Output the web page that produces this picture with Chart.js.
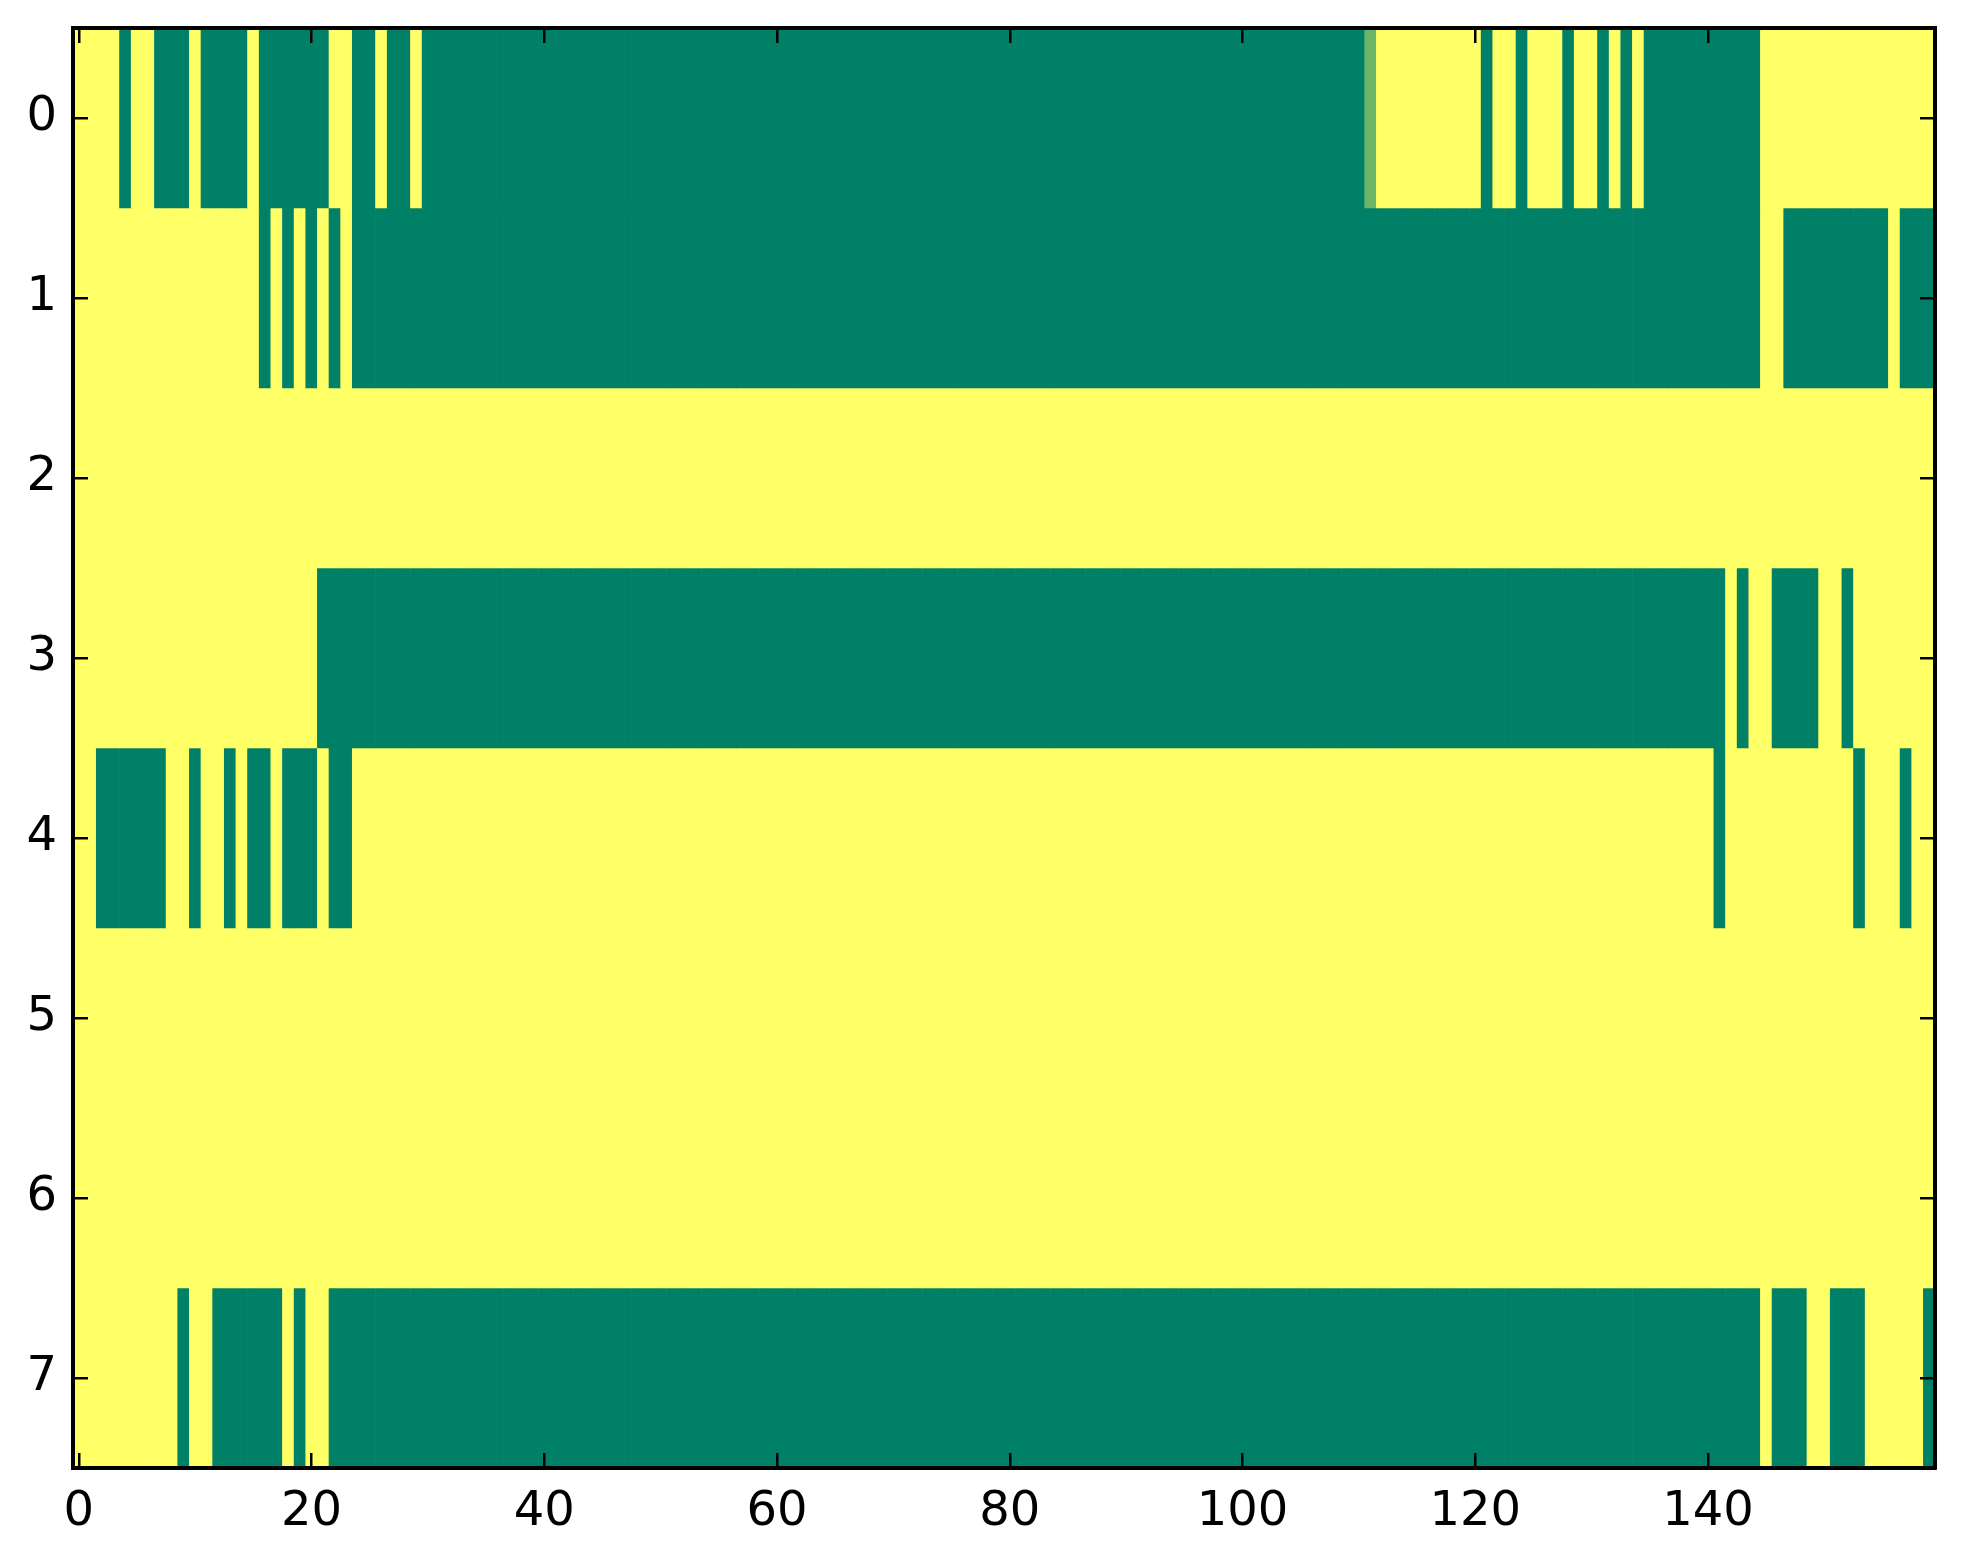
<!DOCTYPE html>
<html>
<head>
<meta charset="utf-8">
<script src="https://cdn.jsdelivr.net/npm/chart.js@4.4.1/dist/chart.umd.min.js"></script>
<style>
  html, body { margin: 0; padding: 0; background: #ffffff; }
  #wrap { width: 1963px; height: 1564px; }
</style>
</head>
<body>
<div id="wrap"><canvas id="heat" width="1963" height="1564"></canvas></div>
<script>
// cell values, one array per image row (1 = yellow, 0 = green)
const row0 = [
  1,1,1,1,0,1,1,0,0,0,1,0,0,0,0,1,0,0,0,0,
  0,0,1,1,0,0,1,0,0,1,0,0,0,0,0,0,0,0,0,0,
  0,0,0,0,0,0,0,0,0,0,0,0,0,0,0,0,0,0,0,0,
  0,0,0,0,0,0,0,0,0,0,0,0,0,0,0,0,0,0,0,0,
  0,0,0,0,0,0,0,0,0,0,0,0,0,0,0,0,0,0,0,0,
  0,0,0,0,0,0,0,0,0,0,0,0.42,1,1,1,1,1,1,1,1,
  1,0,1,1,0,1,1,1,0,1,1,0,1,0,1,0,0,0,0,0,
  0,0,0,0,0,1,1,1,1,1,1,1,1,1,1,1,1,1,1,1
];
const row1 = [
  1,1,1,1,1,1,1,1,1,1,1,1,1,1,1,1,0,1,0,1,
  0,1,0,1,0,0,0,0,0,0,0,0,0,0,0,0,0,0,0,0,
  0,0,0,0,0,0,0,0,0,0,0,0,0,0,0,0,0,0,0,0,
  0,0,0,0,0,0,0,0,0,0,0,0,0,0,0,0,0,0,0,0,
  0,0,0,0,0,0,0,0,0,0,0,0,0,0,0,0,0,0,0,0,
  0,0,0,0,0,0,0,0,0,0,0,0,0,0,0,0,0,0,0,0,
  0,0,0,0,0,0,0,0,0,0,0,0,0,0,0,0,0,0,0,0,
  0,0,0,0,0,1,1,0,0,0,0,0,0,0,0,0,1,0,0,0
];
const row2 = [
  1,1,1,1,1,1,1,1,1,1,1,1,1,1,1,1,1,1,1,1,
  1,1,1,1,1,1,1,1,1,1,1,1,1,1,1,1,1,1,1,1,
  1,1,1,1,1,1,1,1,1,1,1,1,1,1,1,1,1,1,1,1,
  1,1,1,1,1,1,1,1,1,1,1,1,1,1,1,1,1,1,1,1,
  1,1,1,1,1,1,1,1,1,1,1,1,1,1,1,1,1,1,1,1,
  1,1,1,1,1,1,1,1,1,1,1,1,1,1,1,1,1,1,1,1,
  1,1,1,1,1,1,1,1,1,1,1,1,1,1,1,1,1,1,1,1,
  1,1,1,1,1,1,1,1,1,1,1,1,1,1,1,1,1,1,1,1
];
const row3 = [
  1,1,1,1,1,1,1,1,1,1,1,1,1,1,1,1,1,1,1,1,
  1,0,0,0,0,0,0,0,0,0,0,0,0,0,0,0,0,0,0,0,
  0,0,0,0,0,0,0,0,0,0,0,0,0,0,0,0,0,0,0,0,
  0,0,0,0,0,0,0,0,0,0,0,0,0,0,0,0,0,0,0,0,
  0,0,0,0,0,0,0,0,0,0,0,0,0,0,0,0,0,0,0,0,
  0,0,0,0,0,0,0,0,0,0,0,0,0,0,0,0,0,0,0,0,
  0,0,0,0,0,0,0,0,0,0,0,0,0,0,0,0,0,0,0,0,
  0,0,1,0,1,1,0,0,0,0,1,1,0,1,1,1,1,1,1,1
];
const row4 = [
  1,1,0,0,0,0,0,0,1,1,0,1,1,0,1,0,0,1,0,0,
  0,1,0,0,1,1,1,1,1,1,1,1,1,1,1,1,1,1,1,1,
  1,1,1,1,1,1,1,1,1,1,1,1,1,1,1,1,1,1,1,1,
  1,1,1,1,1,1,1,1,1,1,1,1,1,1,1,1,1,1,1,1,
  1,1,1,1,1,1,1,1,1,1,1,1,1,1,1,1,1,1,1,1,
  1,1,1,1,1,1,1,1,1,1,1,1,1,1,1,1,1,1,1,1,
  1,1,1,1,1,1,1,1,1,1,1,1,1,1,1,1,1,1,1,1,
  1,0,1,1,1,1,1,1,1,1,1,1,1,0,1,1,1,0,1,1
];
const row5 = [
  1,1,1,1,1,1,1,1,1,1,1,1,1,1,1,1,1,1,1,1,
  1,1,1,1,1,1,1,1,1,1,1,1,1,1,1,1,1,1,1,1,
  1,1,1,1,1,1,1,1,1,1,1,1,1,1,1,1,1,1,1,1,
  1,1,1,1,1,1,1,1,1,1,1,1,1,1,1,1,1,1,1,1,
  1,1,1,1,1,1,1,1,1,1,1,1,1,1,1,1,1,1,1,1,
  1,1,1,1,1,1,1,1,1,1,1,1,1,1,1,1,1,1,1,1,
  1,1,1,1,1,1,1,1,1,1,1,1,1,1,1,1,1,1,1,1,
  1,1,1,1,1,1,1,1,1,1,1,1,1,1,1,1,1,1,1,1
];
const row6 = [
  1,1,1,1,1,1,1,1,1,1,1,1,1,1,1,1,1,1,1,1,
  1,1,1,1,1,1,1,1,1,1,1,1,1,1,1,1,1,1,1,1,
  1,1,1,1,1,1,1,1,1,1,1,1,1,1,1,1,1,1,1,1,
  1,1,1,1,1,1,1,1,1,1,1,1,1,1,1,1,1,1,1,1,
  1,1,1,1,1,1,1,1,1,1,1,1,1,1,1,1,1,1,1,1,
  1,1,1,1,1,1,1,1,1,1,1,1,1,1,1,1,1,1,1,1,
  1,1,1,1,1,1,1,1,1,1,1,1,1,1,1,1,1,1,1,1,
  1,1,1,1,1,1,1,1,1,1,1,1,1,1,1,1,1,1,1,1
];
const row7 = [
  1,1,1,1,1,1,1,1,1,0,1,1,0,0,0,0,0,0,1,0,
  1,1,0,0,0,0,0,0,0,0,0,0,0,0,0,0,0,0,0,0,
  0,0,0,0,0,0,0,0,0,0,0,0,0,0,0,0,0,0,0,0,
  0,0,0,0,0,0,0,0,0,0,0,0,0,0,0,0,0,0,0,0,
  0,0,0,0,0,0,0,0,0,0,0,0,0,0,0,0,0,0,0,0,
  0,0,0,0,0,0,0,0,0,0,0,0,0,0,0,0,0,0,0,0,
  0,0,0,0,0,0,0,0,0,0,0,0,0,0,0,0,0,0,0,0,
  0,0,0,0,0,1,0,0,0,1,1,0,0,0,1,1,1,1,1,0
];
const rows = [row0, row1, row2, row3, row4, row5, row6, row7];

// tick labels
const xTicks = [0, 20, 40, 60, 80, 100, 120, 140];
const yTicks = [0, 1, 2, 3, 4, 5, 6, 7];

// matplotlib "summer" colormap
function summer(v) {
    const r = Math.round(255 * v);
    const g = Math.round(255 * (0.5 + v / 2));
    return 'rgb(' + r + ',' + g + ',102)';
}

const datasets = rows.map((vals, r) => ({
    data: vals.map((v, i) => ({ x: i, y: [r - 0.5, r + 0.5] })),
    backgroundColor: vals.map(summer),
    borderWidth: 0,
    grouped: false,
    barPercentage: 1,
    categoryPercentage: 1
}));

Chart.defaults.font.family = "'DejaVu Sans', sans-serif";
Chart.defaults.color = '#000000';

// ticks drawn inward, frame on all four sides
function axisStyle(showLabels, pad) {
    return {
        offset: false,
        grid: {
            offset: false,
            drawOnChartArea: false,
            drawTicks: true,
            tickLength: -15,
            color: '#000000',
            lineWidth: 2.5,
            z: 1
        },
        border: { display: true, color: '#000000', width: 4, z: 1 },
        ticks: {
            display: showLabels,
            font: { size: 48 },
            color: '#000000',
            padding: pad,
            maxRotation: 0,
            autoSkip: false
        }
    };
}

// fixed axis sizes so the plot box sits where the original one does
function fixSize(dim, size) {
    return s => {
        s[dim] = size;
        s.paddingTop = 0;
        s.paddingBottom = 0;
        s.paddingLeft = 0;
        s.paddingRight = 0;
    };
}

const xAxis = Object.assign(axisStyle(true, 31), {
    type: 'linear', position: 'bottom', min: -0.5, max: 159.5,
    afterBuildTicks: s => { s.ticks = xTicks.map(v => ({ value: v })); },
    afterFit: fixSize('height', 96)
});
const xTop = Object.assign(axisStyle(false, 0), {
    type: 'linear', position: 'top', min: -0.5, max: 159.5,
    afterBuildTicks: s => { s.ticks = xTicks.map(v => ({ value: v })); },
    afterFit: fixSize('height', 28)
});
const yAxis = Object.assign(axisStyle(true, 31), {
    type: 'linear', position: 'left', min: -0.5, max: 7.5, reverse: true,
    afterBuildTicks: s => { s.ticks = yTicks.map(v => ({ value: v })); },
    afterFit: fixSize('width', 73)
});
const yRight = Object.assign(axisStyle(false, 0), {
    type: 'linear', position: 'right', min: -0.5, max: 7.5, reverse: true,
    afterBuildTicks: s => { s.ticks = yTicks.map(v => ({ value: v })); },
    afterFit: fixSize('width', 28)
});

new Chart(document.getElementById('heat').getContext('2d'), {
    type: 'bar',
    data: { datasets: datasets },
    options: {
        responsive: false,
        animation: false,
        devicePixelRatio: 1,
        layout: { padding: 0 },
        plugins: { legend: { display: false }, tooltip: { enabled: false } },
        scales: { x: xAxis, x2: xTop, y: yAxis, y2: yRight }
    }
});
</script>
</body>
</html>
